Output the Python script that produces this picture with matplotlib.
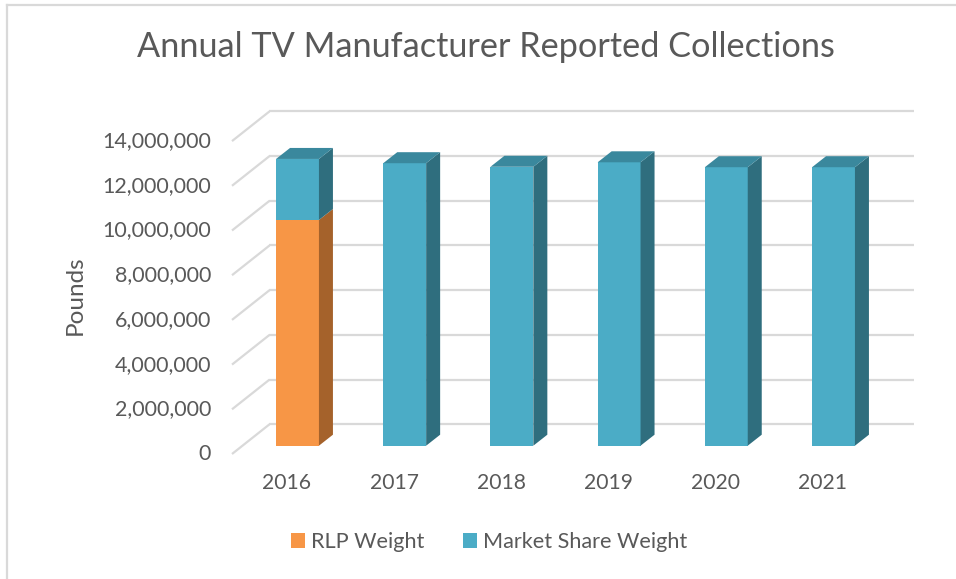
import matplotlib
matplotlib.use("Agg")
import matplotlib.pyplot as plt
from matplotlib.patches import Polygon
from matplotlib.lines import Line2D

plt.rcParams['font.family'] = ['Lato', 'DejaVu Sans']

# ---- data ----
years = ["2016", "2017", "2018", "2019", "2020", "2021"]
rlp_weight = [10100000, 0, 0, 0, 0, 0]
market_share_weight = [2730000, 12640000, 12480000, 12680000, 12460000, 12460000]
yticks = [0, 2000000, 4000000, 6000000, 8000000, 10000000, 12000000, 14000000]
title = "Annual TV Manufacturer Reported Collections"
ylabel = "Pounds"
series_names = ["RLP Weight", "Market Share Weight"]

# ---- style ----
TXT = "#595959"
GRID = "#D9D9D9"
ORANGE_FRONT, ORANGE_SIDE = "#F79646", "#A5622B"
TEAL_FRONT, TEAL_SIDE, TEAL_TOP = "#4BACC6", "#2F6E7E", "#3A889D"

W, H = 956, 579
fig = plt.figure(figsize=(W / 100, H / 100), dpi=100)
ax = fig.add_axes([0, 0, 1, 1])
ax.set_axis_off()

# pixel scale of the chart: category unit = 107.2 px, 2,000,000 = 44.7 px
px_x = 107.2
px_y = 44.7 / 2000000
x0 = -297.5 / px_x
ax.set_xlim(x0, x0 + W / px_x)
yb = -(H - 445.7) / px_y
ax.set_ylim(yb, yb + H / px_y)

# oblique offsets (in data units)
bar_w = 0.40
bdx, bdy = 14 / px_x, 11 / px_y          # bar depth
fdx, fdy = -10.5 / px_x, -8.3 / px_y     # bar plane -> front plane
wdx, wdy = 27 / px_x, 21.4 / px_y        # bar plane -> back wall
left_plane_x = (242.5 - 297.5) / px_x
right_end = (914 - 297.5) / px_x

TICK_FS = 15.5
YEAR_FS = 15.2

# gridlines (left wall diagonals + back wall horizontals)
for v in yticks:
    ax.plot([left_plane_x + fdx, left_plane_x + wdx], [v + fdy, v + wdy],
            color=GRID, lw=1.6, solid_capstyle='butt', zorder=1)
    ax.plot([left_plane_x + wdx, right_end], [v + wdy, v + wdy],
            color=GRID, lw=1.6, solid_capstyle='butt', zorder=1)
    ax.text(left_plane_x + fdx - 21 / px_x, v + fdy, f"{v:,}", ha='right', va='center',
            fontsize=TICK_FS, color=TXT)

xs = list(range(len(years)))

# front faces
b1 = ax.bar(xs, rlp_weight, width=bar_w, color=ORANGE_FRONT, zorder=3, label=series_names[0])
b2 = ax.bar(xs, market_share_weight, width=bar_w, bottom=rlp_weight, color=TEAL_FRONT,
            zorder=3, label=series_names[1])

def side(xr, lo, hi, color):
    ax.add_patch(Polygon([(xr, lo), (xr + bdx, lo + bdy), (xr + bdx, hi + bdy), (xr, hi)],
                         closed=True, facecolor=color, edgecolor='none', zorder=3))

def top(xl, xr, v, color):
    ax.add_patch(Polygon([(xl, v), (xl + bdx, v + bdy), (xr + bdx, v + bdy), (xr, v)],
                         closed=True, facecolor=color, edgecolor='none', zorder=3))

for i, x in enumerate(xs):
    xl, xr = x - bar_w / 2, x + bar_w / 2
    r = rlp_weight[i]
    m = market_share_weight[i]
    if r > 0:
        side(xr, 0, r, ORANGE_SIDE)
    side(xr, r, r + m, TEAL_SIDE)
    top(xl, xr, r + m, TEAL_TOP)
    # category label on front plane
    ax.text(x + fdx, -(483 - 445.7) / px_y, years[i], ha='center', va='center',
            fontsize=YEAR_FS, color=TXT)

# title and axis label
fig.text(486 / W, 1 - 47 / H, title, ha='center', va='center', fontsize=24.7, color=TXT)
fig.text(75 / W, 1 - 295 / H, ylabel, ha='center', va='center', rotation=90,
         fontsize=17.5, color=TXT)

# legend
fs = 15.6
fpx = fs * 100 / 72
leg = fig.legend(handles=[b1, b2], labels=series_names, loc='center',
                 bbox_to_anchor=(489 / W, 1 - 542 / H), ncol=2, frameon=False,
                 fontsize=fs, labelcolor=TXT, handlelength=14 / fpx, handleheight=14 / fpx,
                 handletextpad=6 / fpx, columnspacing=38 / fpx)

# chart border (top and left visible)
fig.add_artist(Line2D([6.5 / W, 6.5 / W], [0, 1 - 5 / H], transform=fig.transFigure,
                      color=GRID, lw=1.6))
fig.add_artist(Line2D([6.5 / W, 1], [1 - 5 / H, 1 - 5 / H], transform=fig.transFigure,
                      color=GRID, lw=1.6))

fig.savefig("out.png", dpi=100)
